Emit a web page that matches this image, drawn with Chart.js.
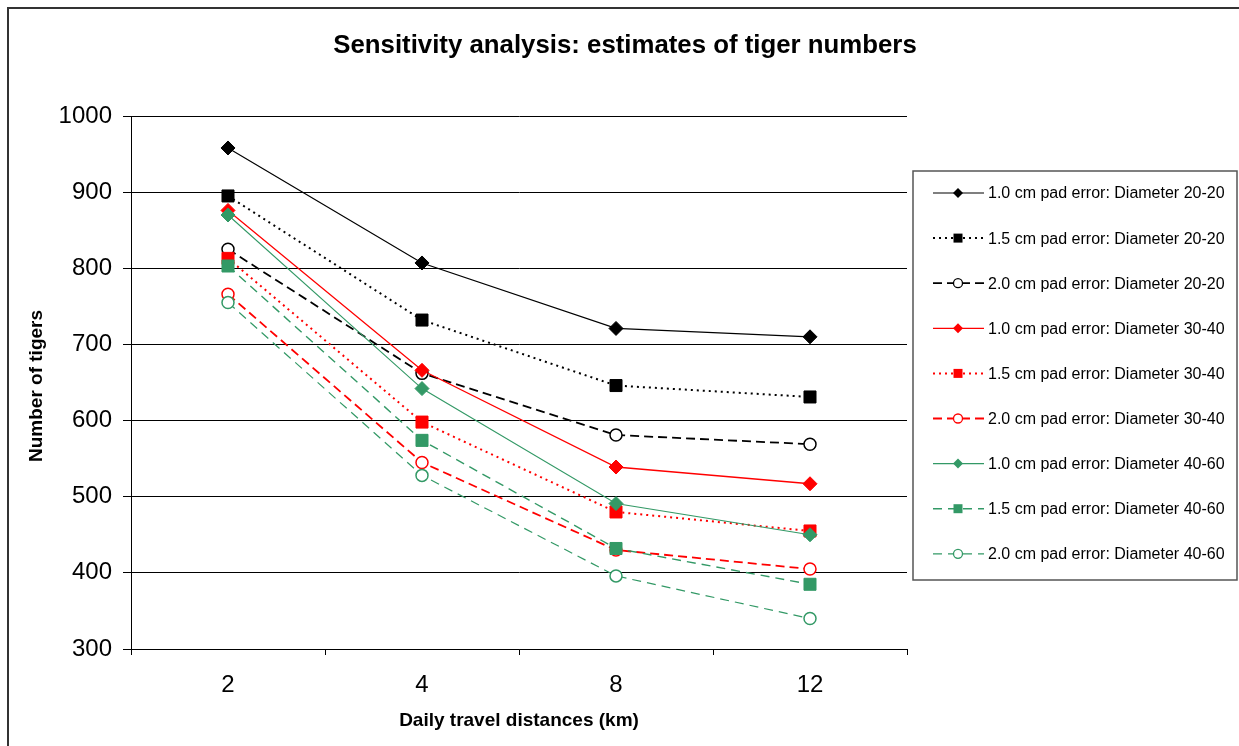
<!DOCTYPE html>
<html>
<head>
<meta charset="utf-8">
<title>Sensitivity analysis</title>
<script src="https://cdn.jsdelivr.net/npm/chart.js@4/dist/chart.umd.min.js"></script>
<style>
  html, body { margin: 0; padding: 0; background: #fff; }
  #wrap { width: 1239px; height: 746px; position: relative; }
</style>
</head>
<body>
<div id="wrap"><canvas id="chart" width="1239" height="746"></canvas></div>
<script>
// Data
const distances = ['2', '4', '8', '12'];
const yTicks = [300, 400, 500, 600, 700, 800, 900, 1000];

const pad10_d2020 = [958, 807, 721, 710];
const pad15_d2020 = [895, 732, 646, 631];
const pad20_d2020 = [825, 662, 581, 569];
const pad10_d3040 = [876, 666, 539, 517];
const pad15_d3040 = [813, 598, 480, 455];
const pad20_d3040 = [766, 545, 430, 405];
const pad10_d4060 = [870, 642, 491, 450];
const pad15_d4060 = [803, 574, 432, 385];
const pad20_d4060 = [755, 528, 396, 340];

const seriesLabels = [
  '1.0 cm pad error: Diameter 20-20',
  '1.5 cm pad error: Diameter 20-20',
  '2.0 cm pad error: Diameter 20-20',
  '1.0 cm pad error: Diameter 30-40',
  '1.5 cm pad error: Diameter 30-40',
  '2.0 cm pad error: Diameter 30-40',
  '1.0 cm pad error: Diameter 40-60',
  '1.5 cm pad error: Diameter 40-60',
  '2.0 cm pad error: Diameter 40-60'
];
const seriesValues = [
  pad10_d2020, pad15_d2020, pad20_d2020,
  pad10_d3040, pad15_d3040, pad20_d3040,
  pad10_d4060, pad15_d4060, pad20_d4060
];

const BLACK = '#000000';
const RED = '#ff0000';
const GREEN = '#339966';
const FONT = '"Liberation Sans", Arial, sans-serif';

// style per series: colour, line dash, marker
const styles = [
  { color: BLACK, dash: [], width: 1.2, marker: 'diamond' },
  { color: BLACK, dash: [2, 4], width: 2, marker: 'square' },
  { color: BLACK, dash: [9, 5], width: 1.8, marker: 'circle' },
  { color: RED, dash: [], width: 1.3, marker: 'diamond' },
  { color: RED, dash: [2, 4], width: 2, marker: 'square' },
  { color: RED, dash: [9, 5], width: 1.8, marker: 'circle' },
  { color: GREEN, dash: [], width: 1.1, marker: 'diamond' },
  { color: GREEN, dash: [9, 6], width: 1.4, marker: 'square' },
  { color: GREEN, dash: [9, 6], width: 1.2, marker: 'circle' }
];

function pointProps(style) {
  if (style.marker === 'diamond') {
    return { pointStyle: 'rectRot', pointRadius: 7, pointBackgroundColor: style.color, pointBorderColor: style.color, pointBorderWidth: 1 };
  }
  if (style.marker === 'square') {
    return { pointStyle: 'rect', pointRadius: 8.5, pointBackgroundColor: style.color, pointBorderColor: style.color, pointBorderWidth: 1 };
  }
  return { pointStyle: 'circle', pointRadius: 6, pointBackgroundColor: '#ffffff', pointBorderColor: style.color, pointBorderWidth: 1.5 };
}

const datasets = seriesValues.map((values, i) => {
  const st = styles[i];
  return Object.assign({
    label: seriesLabels[i],
    data: values,
    borderColor: st.color,
    borderWidth: st.width,
    borderDash: st.dash,
    fill: false,
    tension: 0,
    order: seriesValues.length - i
  }, pointProps(st));
});

// Title, axis titles, outer frame and the boxed legend
const decorations = {
  id: 'decorations',
  beforeDraw(chart) {
    const ctx = chart.ctx;
    ctx.save();
    ctx.fillStyle = '#ffffff';
    ctx.fillRect(0, 0, chart.width, chart.height);
    ctx.restore();
  },
  afterDraw(chart) {
    const ctx = chart.ctx;
    ctx.save();

    // outer frame (top and left edges visible)
    ctx.strokeStyle = '#333333';
    ctx.lineWidth = 2;
    ctx.beginPath();
    ctx.moveTo(8, 760);
    ctx.lineTo(8, 8);
    ctx.lineTo(1250, 8);
    ctx.stroke();

    // chart title
    ctx.fillStyle = '#000';
    ctx.textAlign = 'center';
    ctx.textBaseline = 'middle';
    ctx.font = 'bold 25.8px ' + FONT;
    ctx.fillText('Sensitivity analysis: estimates of tiger numbers', 625, 46);

    // axis titles
    ctx.font = 'bold 19px ' + FONT;
    ctx.fillText('Daily travel distances (km)', 519, 721);
    ctx.save();
    ctx.translate(37, 386);
    ctx.rotate(-Math.PI / 2);
    ctx.fillText('Number of tigers', 0, 0);
    ctx.restore();

    // legend box
    ctx.strokeStyle = '#555555';
    ctx.lineWidth = 1.5;
    ctx.strokeRect(913, 171, 324, 409);

    ctx.font = '16px ' + FONT;
    ctx.textAlign = 'left';
    for (let i = 0; i < seriesLabels.length; i++) {
      const st = styles[i];
      const y = 193 + i * 45.1;
      ctx.strokeStyle = st.color;
      ctx.lineWidth = st.width;
      ctx.setLineDash(st.dash);
      ctx.beginPath();
      ctx.moveTo(933, y);
      ctx.lineTo(984, y);
      ctx.stroke();
      ctx.setLineDash([]);

      const mx = 958;
      ctx.fillStyle = st.color;
      ctx.strokeStyle = st.color;
      ctx.lineWidth = 1;
      ctx.beginPath();
      if (st.marker === 'diamond') {
        ctx.moveTo(mx, y - 5);
        ctx.lineTo(mx + 5, y);
        ctx.lineTo(mx, y + 5);
        ctx.lineTo(mx - 5, y);
        ctx.closePath();
        ctx.fill();
      } else if (st.marker === 'square') {
        ctx.rect(mx - 4.5, y - 4.5, 9, 9);
        ctx.fill();
      } else {
        ctx.arc(mx, y, 4.5, 0, Math.PI * 2);
        ctx.fillStyle = '#ffffff';
        ctx.fill();
        ctx.lineWidth = 1.3;
        ctx.stroke();
      }

      ctx.fillStyle = '#000';
      ctx.textBaseline = 'middle';
      ctx.fillText(seriesLabels[i], 988, y + 1);
    }

    ctx.restore();
  }
};

new Chart(document.getElementById('chart'), {
  type: 'line',
  data: {
    labels: distances,
    datasets: datasets
  },
  options: {
    responsive: false,
    animation: false,
    devicePixelRatio: 1,
    layout: {
      padding: { left: 0, top: 116, right: 332, bottom: 37 }
    },
    plugins: {
      legend: { display: false },
      title: { display: false },
      tooltip: { enabled: false }
    },
    scales: {
      x: {
        type: 'category',
        offset: true,
        afterFit: function(scale) { scale.height = 60; },
        grid: {
          display: true,
          offset: true,
          drawOnChartArea: false,
          drawTicks: true,
          tickLength: 6,
          color: '#000',
          tickColor: '#000'
        },
        border: { display: true, color: '#000', width: 1 },
        ticks: {
          color: '#000',
          padding: 16,
          font: { family: FONT, size: 24 },
          maxRotation: 0
        }
      },
      y: {
        min: 300,
        max: 1000,
        afterFit: function(scale) { scale.width = 131; },
        afterBuildTicks: function(scale) {
          scale.ticks = yTicks.map(v => ({ value: v }));
        },
        grid: {
          color: '#000',
          tickColor: '#000',
          lineWidth: 1,
          drawTicks: true,
          tickLength: 8
        },
        border: { display: true, color: '#000', width: 1 },
        ticks: {
          color: '#000',
          padding: 11,
          font: { family: FONT, size: 24 },
          callback: function(value) { return String(value); }
        }
      }
    }
  },
  plugins: [decorations]
});
</script>
</body>
</html>
